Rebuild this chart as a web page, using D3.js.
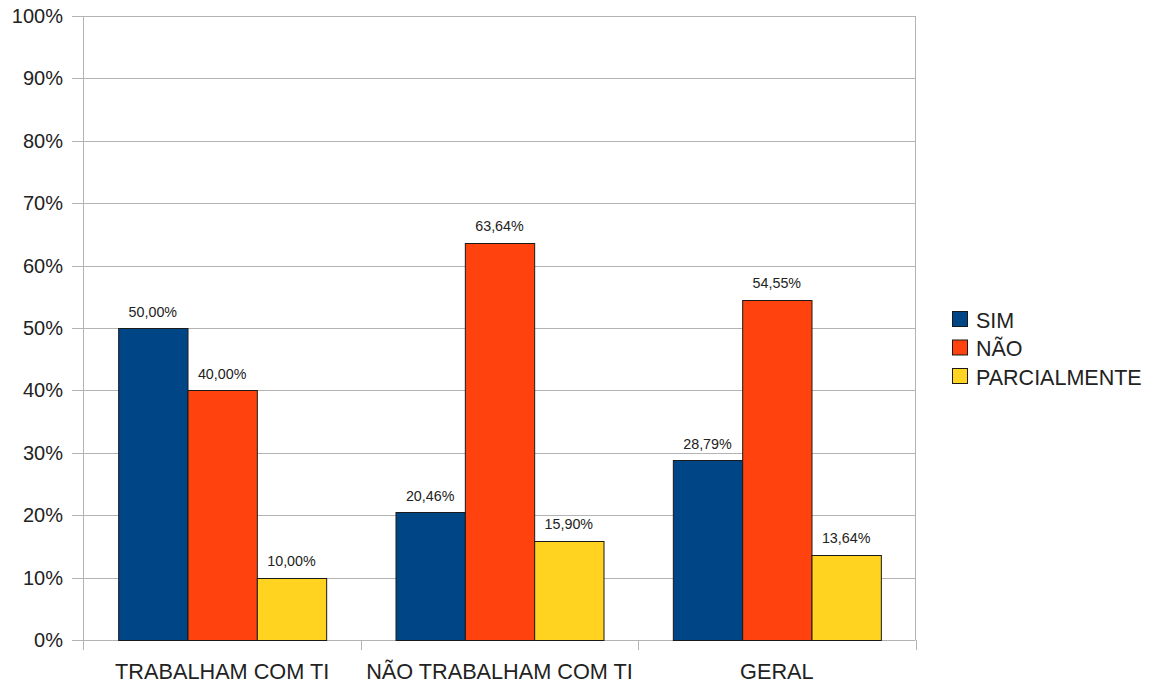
<!DOCTYPE html>
<html>
<head>
<meta charset="utf-8">
<script src="https://cdn.jsdelivr.net/npm/d3@7"></script>
<style>
  html, body { margin: 0; padding: 0; background: #fff; }
  svg { display: block; font-family: "Liberation Sans", Arial, sans-serif; }
</style>
</head>
<body>
<svg id="chart" width="1155" height="686"></svg>
<script>
const categories = ["TRABALHAM COM TI", "NÃO TRABALHAM COM TI", "GERAL"];
const seriesNames = ["SIM", "NÃO", "PARCIALMENTE"];
const sim = [50.00, 20.46, 28.79];
const nao = [40.00, 63.64, 54.55];
const parcialmente = [10.00, 15.90, 13.64];
const seriesColors = ["#004586", "#ff420e", "#ffd320"];
const yTicks = [0, 10, 20, 30, 40, 50, 60, 70, 80, 90, 100];

const seriesValues = [sim, nao, parcialmente];
const svg = d3.select("#chart");
const plotLeft = 83.5, plotRight = 915.5, plotTop = 16, plotBottom = 640;

const x = d3.scaleBand().domain(categories).range([plotLeft, plotRight]).padding(0);
const xInner = d3.scaleBand().domain(seriesNames)
  .range([x.bandwidth() * 0.125, x.bandwidth() * 0.875]).padding(0);
const y = d3.scaleLinear().domain([0, 100]).range([plotBottom, plotTop]);

const fmt = v => v.toFixed(2).replace(".", ",") + "%";

// gridlines
svg.append("g").selectAll("line").data(yTicks).join("line")
  .attr("x1", 72).attr("x2", plotRight)
  .attr("y1", d => Math.round(y(d)) + 0.5).attr("y2", d => Math.round(y(d)) + 0.5)
  .attr("stroke", "#b3b3b3").attr("stroke-width", 1);

// y axis line
svg.append("line").attr("x1", plotLeft).attr("x2", plotLeft).attr("y1", plotTop).attr("y2", 650)
  .attr("stroke", "#b3b3b3");
// category tick lines
const catEdges = categories.map(c => x(c) + x.bandwidth());
svg.append("g").selectAll("line").data(catEdges).join("line")
  .attr("x1", d => Math.round(d) + 0.5).attr("x2", d => Math.round(d) + 0.5)
  .attr("y1", plotBottom).attr("y2", 650)
  .attr("stroke", "#b3b3b3");
svg.append("line").attr("x1", plotRight).attr("x2", plotRight).attr("y1", plotTop).attr("y2", plotBottom)
  .attr("stroke", "#b3b3b3");

// y labels
svg.append("g").selectAll("text").data(yTicks).join("text")
  .attr("x", 63).attr("y", d => y(d) + 7)
  .attr("text-anchor", "end").attr("font-size", 20).attr("fill", "#222")
  .text(d => d + "%");

// bars
const groups = svg.append("g").selectAll("g").data(categories).join("g")
  .attr("transform", c => `translate(${x(c)},0)`);
seriesNames.forEach((s, si) => {
  groups.append("rect")
    .attr("x", xInner(s) + 0.5)
    .attr("y", (c, ci) => Math.round(y(seriesValues[si][ci])) + 0.5)
    .attr("width", xInner.bandwidth())
    .attr("height", (c, ci) => plotBottom - Math.round(y(seriesValues[si][ci])))
    .attr("fill", seriesColors[si]).attr("stroke", "#1a1a1a").attr("stroke-width", 1);
  groups.append("text")
    .attr("x", xInner(s) + xInner.bandwidth() / 2)
    .attr("y", (c, ci) => y(seriesValues[si][ci]) - 11.5)
    .attr("text-anchor", "middle").attr("font-size", 14.3).attr("fill", "#222")
    .text((c, ci) => fmt(seriesValues[si][ci]));
});

// x labels
svg.append("g").selectAll("text").data(categories).join("text")
  .attr("x", c => x(c) + x.bandwidth() / 2).attr("y", 679)
  .attr("text-anchor", "middle").attr("font-size", 21.7).attr("fill", "#222")
  .text(c => c);

// legend
const leg = svg.append("g").selectAll("g").data(seriesNames).join("g")
  .attr("transform", (d, i) => `translate(952,${311 + i * 28.5})`);
leg.append("rect").attr("x", 0.5).attr("y", 0.5).attr("width", 15).attr("height", 15)
  .attr("fill", (d, i) => seriesColors[i]).attr("stroke", "#1a1a1a");
leg.append("text").attr("x", 24).attr("y", 16.5).attr("font-size", 21.5).attr("fill", "#222")
  .text(d => d);
</script>
</body>
</html>
